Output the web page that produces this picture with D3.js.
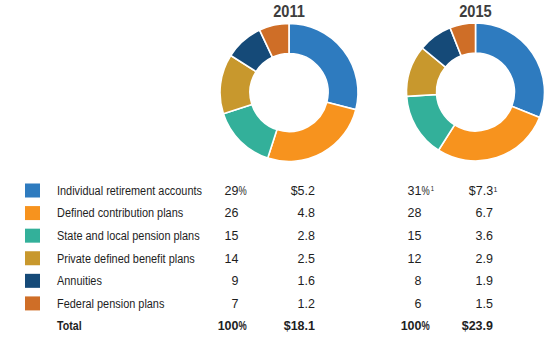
<!DOCTYPE html>
<html><head><meta charset="utf-8">
<script src="https://cdn.jsdelivr.net/npm/d3@7"></script>
<style>
html,body{margin:0;padding:0;background:#fff;}
svg{display:block;}
text{font-family:"Liberation Sans",Arial,sans-serif;fill:#1e1e1e;}
</style></head><body>
<svg id="chart" width="550" height="341"></svg>
<script>
const categories = ["Individual retirement accounts","Defined contribution plans","State and local pension plans","Private defined benefit plans","Annuities","Federal pension plans"];
const colors = ["#2e7bbf","#f7931e","#33b09a","#c8982d","#154a78","#cf6e27"];
const years = ["2011","2015"];
const pct2011 = [29,26,15,14,9,7];
const usd2011 = ["$5.2","4.8","2.8","2.5","1.6","1.2"];
const pct2015 = [31,28,15,12,8,6];
const usd2015 = ["$7.3","6.7","3.6","2.9","1.9","1.5"];
const totals = {pct2011:"100", usd2011:"$18.1", pct2015:"100", usd2015:"$23.9"};

const svg = d3.select("#chart");
const pie = d3.pie().sort(null).value(d=>d);
const arc = d3.arc().innerRadius(39).outerRadius(69);

function squeeze(sel,k){
  const w = sel.node().getComputedTextLength();
  sel.attr("textLength",w*k).attr("lengthAdjust","spacingAndGlyphs");
  return sel;
}

const donuts = [{year:years[0], vals:pct2011, cx:289, cy:92.5},{year:years[1], vals:pct2015, cx:475.5, cy:92}];
donuts.forEach(dn=>{
  const g = svg.append("g").attr("transform",`translate(${dn.cx},${dn.cy})`);
  g.selectAll("path").data(pie(dn.vals)).join("path")
    .attr("d",arc).attr("fill",(d,i)=>colors[i])
    .attr("stroke","#fff").attr("stroke-width",1.6);
  const t = svg.append("text").attr("x",dn.cx).attr("y",16.5).attr("text-anchor","middle")
    .style("font-size","17px").style("font-weight","bold").style("fill","#3d3d3d").text(dn.year);
  squeeze(t,0.86);
});

const FS = "12.5px";
const y = d3.scalePoint().domain(d3.range(7)).range([190.5,326]);
const rows = svg.append("g");
function txt(x,yy,s,anchor,bold){
  const t = rows.append("text").attr("x",x).attr("y",yy).attr("dy","0.35em")
    .attr("text-anchor",anchor||"start").style("font-size",FS).text(s);
  if(bold) t.style("font-weight","bold");
  return t;
}
function pctSign(x,yy,bold,note){
  const g = rows.append("g").attr("transform",`translate(${x},${yy}) scale(0.74,1)`);
  const t = g.append("text").attr("x",0).attr("y",0).attr("dy","0.35em").style("font-size",FS).text("%");
  if(bold) t.style("font-weight","bold");
  if(note) t.append("tspan").attr("dx","1.5").attr("dy","-0.45em").style("font-size","8px").text("1");
}
const probe = txt(0,-50,categories[0]);
const kLab = 145/probe.node().getComputedTextLength();
probe.remove();

categories.forEach((c,i)=>{
  const yy = y(i);
  rows.append("rect").attr("x",25).attr("y",yy-7).attr("width",15).attr("height",14).attr("fill",colors[i]);
  squeeze(txt(57,yy,c),kLab);
  txt(238.5,yy,pct2011[i],"end");
  if(i===0) pctSign(238.5,yy,false,false);
  txt(315,yy,usd2011[i],"end");
  txt(421.5,yy,pct2015[i],"end");
  if(i===0) pctSign(421.5,yy,false,true);
  const t = txt(493,yy,usd2015[i],"end");
  if(i===0){
    t.text(null);
    t.append("tspan").text(usd2015[i]);
    t.attr("x",497.5);
    t.append("tspan").attr("dx","0.5").attr("dy","-0.45em").style("font-size","7px").text("1");
  }
});
const ty = y(6);
squeeze(txt(57,ty,"Total","start",true),0.85);
txt(238.5,ty,totals.pct2011,"end",true);
pctSign(238.5,ty,true,false);
txt(315,ty,totals.usd2011,"end",true);
txt(421.5,ty,totals.pct2015,"end",true);
pctSign(421.5,ty,true,false);
txt(493,ty,totals.usd2015,"end",true);
</script>
</body></html>
